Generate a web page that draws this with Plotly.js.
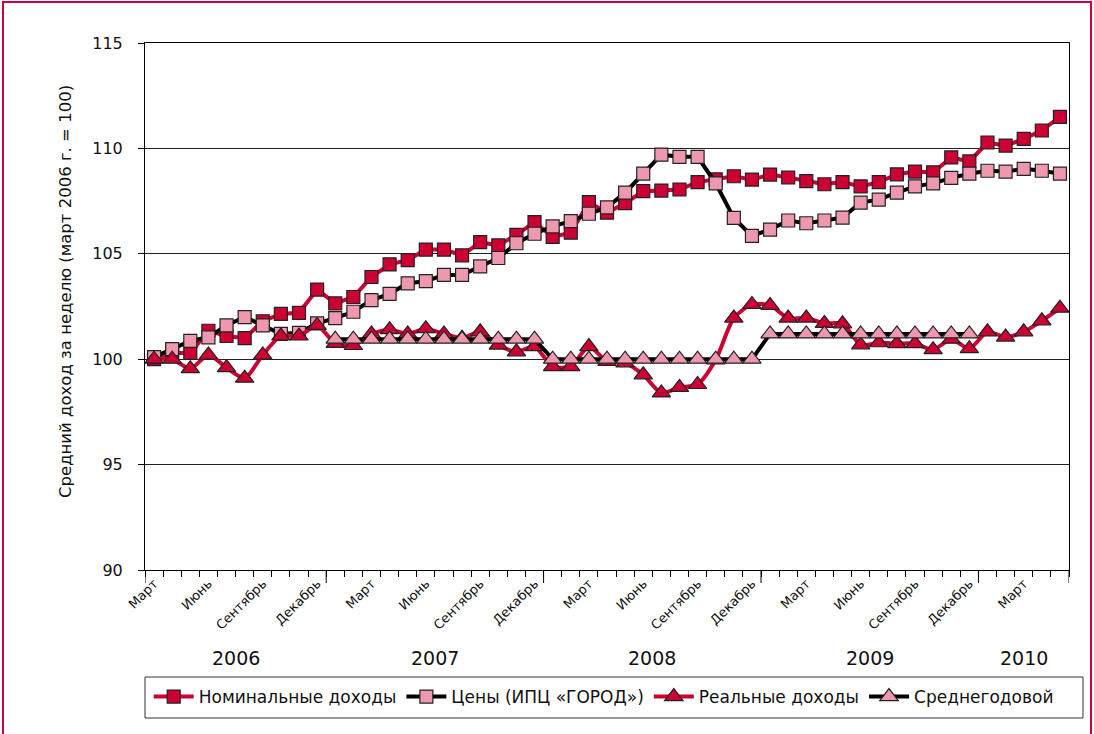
<!DOCTYPE html>
<html><head><meta charset="utf-8">
<script src="https://cdn.plot.ly/plotly-3.0.1.min.js"></script>
<style>
body{margin:0;padding:0;background:#fff;}
#wrap{position:relative;width:1094px;height:734px;overflow:hidden;}
#chart{position:absolute;left:0;top:0;width:1094px;height:734px;}
#frame{position:absolute;left:2px;top:1px;width:1086px;height:760px;border:2px solid #c8003c;pointer-events:none;}
</style></head>
<body><div id="wrap"><div id="chart"></div><div id="frame"></div></div>
<script>
// Months: March 2006 .. May 2010
const months = ['03.2006','04.2006','05.2006','06.2006','07.2006','08.2006','09.2006','10.2006','11.2006','12.2006',
 '01.2007','02.2007','03.2007','04.2007','05.2007','06.2007','07.2007','08.2007','09.2007','10.2007','11.2007','12.2007',
 '01.2008','02.2008','03.2008','04.2008','05.2008','06.2008','07.2008','08.2008','09.2008','10.2008','11.2008','12.2008',
 '01.2009','02.2009','03.2009','04.2009','05.2009','06.2009','07.2009','08.2009','09.2009','10.2009','11.2009','12.2009',
 '01.2010','02.2010','03.2010','04.2010','05.2010'];
const monthTickLabels = {'03':'Март','06':'Июнь','09':'Сентябрь','12':'Декабрь'};
const years = ['2006','2007','2008','2009','2010'];
const yTitle = 'Средний доход за неделю (март 2006 г. = 100)';

const nominal = [100.0,100.3,100.3,101.35,101.1,101.0,101.8,102.15,102.2,103.3,
 102.65,102.95,103.9,104.5,104.7,105.2,105.2,104.93,105.55,105.4,105.9,106.5,
 105.8,106.0,107.45,106.95,107.4,107.97,108.0,108.05,108.4,108.53,108.68,108.52,
 108.76,108.62,108.45,108.3,108.4,108.2,108.4,108.77,108.9,108.86,109.57,109.38,
 110.28,110.13,110.45,110.85,111.5];
const prices = [100.1,100.48,100.87,101.04,101.6,102.0,101.6,101.2,101.25,101.7,
 101.95,102.25,102.8,103.1,103.6,103.7,104.0,104.0,104.4,104.8,105.5,105.95,
 106.3,106.55,106.9,107.2,107.9,108.8,109.7,109.6,109.6,108.34,106.7,105.85,
 106.15,106.58,106.45,106.58,106.72,107.43,107.57,107.9,108.2,108.34,108.6,108.8,
 108.94,108.9,109.03,108.94,108.8];
const real = [100.0,100.0,99.55,100.2,99.6,99.1,100.2,101.1,101.1,101.6,
 100.75,100.65,101.2,101.4,101.2,101.45,101.2,101.0,101.3,100.67,100.35,100.6,
 99.65,99.65,100.6,99.9,99.83,99.26,98.4,98.66,98.8,99.97,101.95,102.6,
 102.55,101.95,101.95,101.7,101.68,100.68,100.78,100.74,100.74,100.45,100.95,100.5,
 101.3,101.05,101.3,101.82,102.42];
const yearAverage = [null,null,null,null,null,null,null,null,null,null,
 100.95,100.95,100.95,100.95,100.95,100.95,100.95,100.95,100.95,100.95,100.95,100.95,
 100.0,100.0,100.0,100.0,100.0,100.0,100.0,100.0,100.0,100.0,100.0,100.0,
 101.2,101.2,101.2,101.2,101.2,101.2,101.2,101.2,101.2,101.2,101.2,101.2,
 null,null,null,null,null];

const x = months.map((m, i) => i);
const crimson = '#cc0033', pink = '#ee98b0', black = '#000000';
const FONT = 'DejaVu Sans, Liberation Sans, sans-serif';

const tickvals = [], ticktext = [];
months.forEach((m, i) => { const mm = m.slice(0, 2); if (monthTickLabels[mm]) { tickvals.push(i); ticktext.push(monthTickLabels[mm]); } });

const yearStart = {}, yearEnd = {};
months.forEach((m, i) => { const yy = m.slice(3); if (!(yy in yearStart)) yearStart[yy] = i; yearEnd[yy] = i; });

const traces = [
 {name:'Номинальные доходы', x:x, y:nominal, mode:'lines+markers',
  line:{color:crimson,width:4}, marker:{symbol:'square',size:13,color:crimson,line:{color:'#222',width:1.2}}},
 {name:'Цены (ИПЦ «ГОРОД»)', x:x, y:prices, mode:'lines+markers',
  line:{color:black,width:4}, marker:{symbol:'square',size:13,color:pink,line:{color:'#222',width:1.2}}},
 {name:'Реальные доходы', x:x, y:real, mode:'lines+markers',
  line:{color:crimson,width:4,shape:'spline',smoothing:0.7}, marker:{symbol:'triangle-up',size:16,color:crimson,line:{color:'#222',width:1.2}}},
 {name:'Среднегодовой', x:x, y:yearAverage, mode:'lines+markers', connectgaps:false,
  line:{color:black,width:4}, marker:{symbol:'triangle-up',size:16,color:pink,line:{color:'#222',width:1.2}}}
];

const plotW = 924, plotH = 527;
const shapes = [];
years.forEach(yy => {
  const b = yearEnd[yy] + 0.5;
  shapes.push({type:'line', xref:'x', yref:'paper', x0:b, x1:b, y0:0, y1:-13/plotH, line:{color:'#000',width:1}});
});
shapes.push({type:'line', xref:'x', yref:'paper', x0:-0.5, x1:-0.5, y0:0, y1:-13/plotH, line:{color:'#000',width:1}});
shapes.push({type:'rect', xref:'paper', yref:'paper', x0:0, x1:(1083-145)/plotW, y0:(570-677)/plotH, y1:(570-718)/plotH, line:{color:'#333',width:1}, fillcolor:'rgba(0,0,0,0)'});

const annotations = years.map(yy => ({
  x:(yearStart[yy] + yearEnd[yy]) / 2, xref:'x', y:(570-658)/plotH, yref:'paper', yanchor:'middle',
  text:yy, showarrow:false, font:{family:FONT, size:19, color:'#111'}
}));
annotations.push({x:(65-145)/plotW, xref:'paper', y:(570-292)/plotH, yref:'paper', xanchor:'center', yanchor:'middle',
  text:yTitle, textangle:-90, showarrow:false, font:{family:FONT, size:16.5, color:'#111'}});

const layout = {
  width:1094, height:734,
  margin:{l:145, r:25, t:43, b:164},
  paper_bgcolor:'rgba(0,0,0,0)', plot_bgcolor:'#fff',
  font:{family:FONT, color:'#111'},
  showlegend:true,
  legend:{orientation:'h', x:0.004, xanchor:'left', y:(570-679)/plotH, yanchor:'top',
    font:{size:17, color:'#111'}, bgcolor:'rgba(0,0,0,0)', borderwidth:0, itemwidth:40, traceorder:'normal'},
  xaxis:{range:[-0.5, 50.5], tickmode:'array', tickvals:tickvals, ticktext:ticktext, tickangle:-45,
    ticks:'', tickfont:{size:13, color:'#111'}, showgrid:false, zeroline:false,
    showline:true, linecolor:'#000', linewidth:1, mirror:true,
    minor:{tickmode:'linear', tick0:-0.5, dtick:1, ticks:'outside', ticklen:6, tickcolor:'#000', tickwidth:1, showgrid:false}},
  yaxis:{range:[90, 115], tickmode:'linear', tick0:90, dtick:5, ticks:'outside', ticklen:6, tickcolor:'#000',
    ticklabelstandoff:12,
    tickfont:{size:16, color:'#111'}, showgrid:true, gridcolor:'#222', gridwidth:1, zeroline:false,
    showline:true, linecolor:'#000', linewidth:1, mirror:true},
  shapes:shapes, annotations:annotations
};

Plotly.newPlot('chart', traces, layout, {displayModeBar:false, staticPlot:true});
</script></body></html>
